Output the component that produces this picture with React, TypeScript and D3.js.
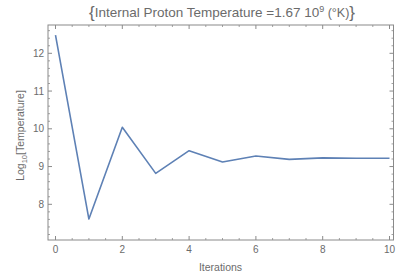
import React from "react";
import * as d3 from "d3";

const iterations = [0, 1, 2, 3, 4, 5, 6, 7, 8, 9, 10];
const logTemp = [12.48, 7.61, 10.04, 8.82, 9.42, 9.12, 9.28, 9.19, 9.23, 9.22, 9.22];
const xTicks = [0, 2, 4, 6, 8, 10];
const yTicks = [8, 9, 10, 11, 12];

const W = 398, H = 280;
const L = 48, R = 393.5, T = 25, B = 240;

export default function App() {
  const x = d3.scaleLinear().domain([0, 10]).range([55.5, 389.5]);
  const y = d3.scaleLinear().domain([8, 12]).range([204.3, 53.3]);
  const line = d3.line<number>().x((_, i) => x(iterations[i])).y((d) => y(d));
  const xMinor = d3.range(-0.5, 10.51, 0.5).filter((v) => x(v) > L && x(v) < R && !xTicks.includes(v));
  const yMinor = d3.range(7.0, 12.81, 0.2).map((v) => +v.toFixed(2)).filter((v) => y(v) > T && y(v) < B && !yTicks.includes(v));
  const frame = "#8a8a8a";
  const txt = "#6b6b6b";
  const font = "'Liberation Sans', Arial, sans-serif";
  return (
    <svg width={W} height={H} style={{ position: "absolute", left: 0, top: 0 }} fontFamily={font}>
      <rect x={0} y={0} width={W} height={H} fill="#fff" />
      <rect x={L} y={T} width={R - L} height={B - T} fill="none" stroke={frame} strokeWidth={1} />
      {xTicks.map((v) => (
        <g key={"xt" + v}>
          <line x1={x(v)} x2={x(v)} y1={B} y2={B - 4} stroke={frame} />
          <line x1={x(v)} x2={x(v)} y1={T} y2={T + 4} stroke={frame} />
          <text x={x(v)} y={B + 13} textAnchor="middle" fontSize={10} fill={txt}>{v}</text>
        </g>
      ))}
      {xMinor.map((v) => (
        <g key={"xm" + v}>
          <line x1={x(v)} x2={x(v)} y1={B} y2={B - 2} stroke={frame} strokeWidth={0.8} />
          <line x1={x(v)} x2={x(v)} y1={T} y2={T + 2} stroke={frame} strokeWidth={0.8} />
        </g>
      ))}
      {yTicks.map((v) => (
        <g key={"yt" + v}>
          <line x1={L} x2={L + 4} y1={y(v)} y2={y(v)} stroke={frame} />
          <line x1={R} x2={R - 4} y1={y(v)} y2={y(v)} stroke={frame} />
          <text x={L - 4} y={y(v) + 3.5} textAnchor="end" fontSize={10} fill={txt}>{v}</text>
        </g>
      ))}
      {yMinor.map((v) => (
        <g key={"ym" + v}>
          <line x1={L} x2={L + 2} y1={y(v)} y2={y(v)} stroke={frame} strokeWidth={0.8} />
          <line x1={R} x2={R - 2} y1={y(v)} y2={y(v)} stroke={frame} strokeWidth={0.8} />
        </g>
      ))}
      <path d={line(logTemp) || ""} fill="none" stroke="#5E81B5" strokeWidth={1.6} strokeLinejoin="round" />
      <text x={222} y={17} textAnchor="middle" fontSize={13.5} fill={txt}>
        <tspan fontSize={17} dy={1}>{"{"}</tspan>
        <tspan dy={-1}>{"Internal Proton Temperature =1.67 10"}</tspan>
        <tspan dy={-5} fontSize={9}>9</tspan>
        <tspan dy={5} fontSize={12.5}>{" (°K)"}</tspan>
        <tspan fontSize={17} dy={1}>{"}"}</tspan>
      </text>
      <text x={220.5} y={271} textAnchor="middle" fontSize={10.5} fill={txt}>Iterations</text>
      <text transform={`translate(24,${(T + B) / 2 + 3}) rotate(-90)`} textAnchor="middle" fontSize={10.5} fill={txt}>
        Log<tspan dy={3} fontSize={7.5}>10</tspan><tspan dy={-3}>[Temperature]</tspan>
      </text>
    </svg>
  );
}
